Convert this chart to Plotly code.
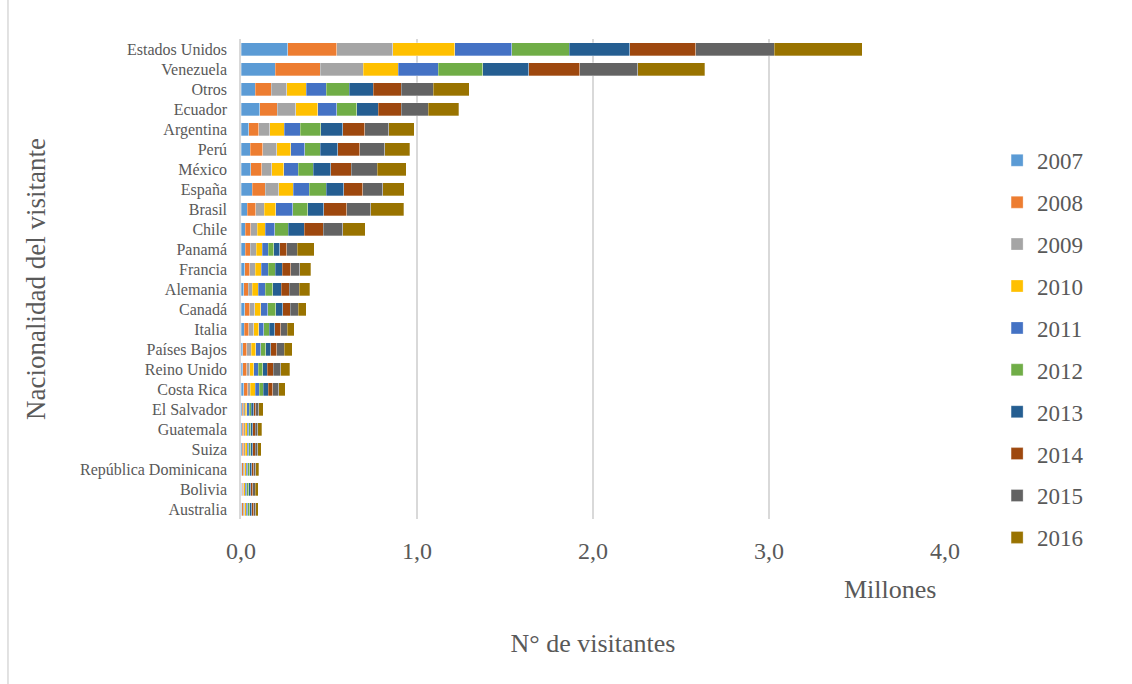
import plotly.graph_objects as go

countries = ["Estados Unidos", "Venezuela", "Otros", "Ecuador", "Argentina", "Perú", "México",
             "España", "Brasil", "Chile", "Panamá", "Francia", "Alemania", "Canadá", "Italia",
             "Países Bajos", "Reino Unido", "Costa Rica", "El Salvador", "Guatemala", "Suiza",
             "República Dominicana", "Bolivia", "Australia"]

years = ["2007", "2008", "2009", "2010", "2011", "2012", "2013", "2014", "2015", "2016"]

# visitors, millions
v2007 = [0.266, 0.195, 0.082, 0.106, 0.044, 0.053, 0.055, 0.063, 0.036, 0.023, 0.025, 0.021, 0.015, 0.021, 0.019, 0.011, 0.011, 0.015, 0.006, 0.008, 0.006, 0.005, 0.004, 0.005]
v2008 = [0.278, 0.254, 0.089, 0.099, 0.057, 0.070, 0.064, 0.076, 0.047, 0.032, 0.028, 0.028, 0.025, 0.028, 0.025, 0.021, 0.021, 0.023, 0.008, 0.008, 0.009, 0.008, 0.006, 0.007]
v2009 = [0.318, 0.245, 0.089, 0.106, 0.061, 0.080, 0.057, 0.076, 0.049, 0.038, 0.034, 0.032, 0.025, 0.028, 0.027, 0.025, 0.017, 0.015, 0.010, 0.009, 0.010, 0.008, 0.007, 0.008]
v2010 = [0.353, 0.200, 0.111, 0.125, 0.085, 0.080, 0.068, 0.083, 0.066, 0.045, 0.034, 0.034, 0.032, 0.034, 0.030, 0.028, 0.023, 0.028, 0.010, 0.010, 0.010, 0.009, 0.008, 0.009]
v2011 = [0.322, 0.226, 0.113, 0.108, 0.091, 0.080, 0.080, 0.089, 0.095, 0.055, 0.034, 0.040, 0.040, 0.040, 0.028, 0.028, 0.027, 0.023, 0.012, 0.010, 0.010, 0.009, 0.009, 0.010]
v2012 = [0.329, 0.254, 0.132, 0.115, 0.114, 0.087, 0.087, 0.097, 0.085, 0.076, 0.030, 0.040, 0.044, 0.045, 0.032, 0.028, 0.025, 0.023, 0.012, 0.011, 0.011, 0.010, 0.010, 0.010]
v2013 = [0.344, 0.261, 0.136, 0.120, 0.127, 0.100, 0.100, 0.100, 0.093, 0.091, 0.034, 0.040, 0.047, 0.040, 0.032, 0.028, 0.025, 0.028, 0.013, 0.012, 0.012, 0.011, 0.011, 0.011]
v2014 = [0.374, 0.289, 0.158, 0.132, 0.125, 0.125, 0.114, 0.108, 0.129, 0.106, 0.040, 0.047, 0.047, 0.044, 0.032, 0.034, 0.034, 0.025, 0.014, 0.013, 0.013, 0.012, 0.012, 0.012]
v2015 = [0.445, 0.329, 0.181, 0.153, 0.136, 0.142, 0.150, 0.114, 0.138, 0.112, 0.061, 0.053, 0.057, 0.045, 0.038, 0.042, 0.044, 0.034, 0.015, 0.014, 0.014, 0.013, 0.013, 0.012]
v2016 = [0.501, 0.381, 0.205, 0.172, 0.144, 0.142, 0.165, 0.121, 0.188, 0.127, 0.097, 0.061, 0.059, 0.047, 0.040, 0.047, 0.049, 0.036, 0.025, 0.022, 0.019, 0.016, 0.018, 0.013]

series = [v2007, v2008, v2009, v2010, v2011, v2012, v2013, v2014, v2015, v2016]
colors = ["#5B9BD5", "#ED7D31", "#A5A5A5", "#FFC000", "#4472C4",
          "#70AD47", "#255E91", "#9E480E", "#636363", "#997300"]

FONT = "Liberation Serif"
GRAY = "#595959"

fig = go.Figure()
for yr, vals, c in zip(years, series, colors):
    fig.add_trace(go.Bar(
        y=countries, x=vals, name=yr, orientation="h",
        marker=dict(color=c, line=dict(color="rgba(255,255,255,0.6)", width=0.5)),
        legendgroup=yr,
    ))

fig.update_layout(
    barmode="stack",
    bargap=0.35,
    width=1132, height=684,
    margin=dict(l=241, r=187, t=39, b=165),
    paper_bgcolor="white", plot_bgcolor="white",
    separators=",.",
    font=dict(family=FONT, color=GRAY),
    legend=dict(
        x=1.074, y=0.792, xanchor="left", yanchor="top",
        font=dict(size=23, color=GRAY, family=FONT),
        tracegroupgap=9, traceorder="grouped",
    ),
    xaxis=dict(
        range=[0, 4.0], dtick=1, tickformat=".1f",
        showgrid=True, gridcolor="#D9D9D9", gridwidth=1.5,
        zeroline=False, showline=False, ticks="",
        ticklabelstandoff=15,
        tickfont=dict(size=24, color=GRAY, family=FONT),
        automargin=False,
        title=dict(text="N° de visitantes", font=dict(size=26, color=GRAY, family=FONT), standoff=70),
    ),
    yaxis=dict(
        autorange="reversed", showgrid=False,
        showline=True, linecolor="#D9D9D9", linewidth=1.5,
        ticks="", ticklabelstandoff=9,
        tickfont=dict(size=16, color=GRAY, family=FONT),
        automargin=False,
        title=dict(text="Nacionalidad del visitante", font=dict(size=27, color=GRAY, family=FONT), standoff=27),
    ),
    annotations=[dict(
        text="Millones", xref="paper", yref="paper", x=0.922, y=-0.146,
        xanchor="center", yanchor="middle", showarrow=False,
        font=dict(size=26, color=GRAY, family=FONT),
    )],
    shapes=[dict(type="line", xref="paper", yref="paper",
                 x0=-0.331, x1=-0.331, y0=1.081, y1=-0.344,
                 line=dict(color="#D9D9D9", width=1.5))],
)

fig.write_html("out.html")
